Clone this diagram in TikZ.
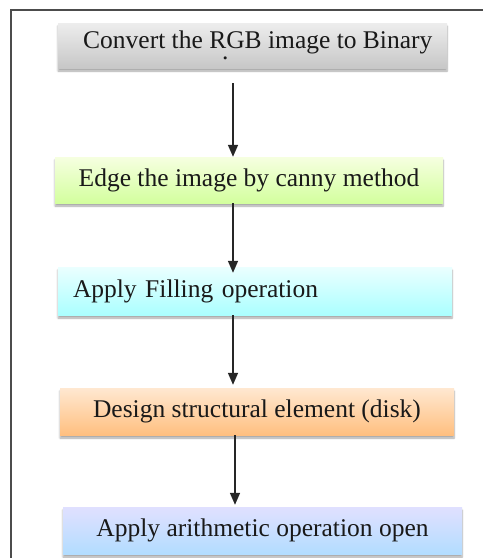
\documentclass[tikz,border=0pt]{standalone}
\usepackage{fontspec}
\setmainfont{Liberation Serif}
\usetikzlibrary{arrows.meta, shadows.blur, positioning}

\tikzset{
  stepbox/.style={rectangle, draw=none, minimum height=46pt, inner sep=0pt,
    font=\fontsize{25.5}{30}\selectfont, text=black!90,
    blur shadow={shadow xshift=0pt, shadow yshift=-3pt, shadow blur steps=6, shadow opacity=35}},
  flow/.style={line width=1.6pt, draw=black!85, -{Triangle[width=10pt,length=12pt]}}
}

\begin{document}
\begin{tikzpicture}[x=1pt, y=-1pt]
		\useasboundingbox (0,0) rectangle (483,558);
		% Frame
		\draw[line width=1.5pt, black!70] (11,558) -- (11,10) -- (483,10);
		
		% Steps
		\node[stepbox, minimum width=389pt, minimum height=45pt, top color=black!7, bottom color=black!22] (rgb) at (252.5,45.5) {};
		\node[font=\fontsize{25.5}{30}\selectfont, text=black!90, inner sep=0pt, align=left, anchor=north west] (rgbtext) at (83,31)
		  {Convert the RGB image to Binary\\[-19pt]\hspace*{139pt}.};
		\node[stepbox, minimum width=388pt, top color=green!30!yellow!12, bottom color=green!45!yellow!38] (edge) at (249,180) {Edge the image by canny method};
		\node[stepbox, minimum width=394pt, minimum height=48pt, text width=364pt, align=left, inner xsep=0pt,
		  top color=cyan!8, bottom color=cyan!33] (fill) at (255,291) {Apply Filling operation};
		\node[stepbox, minimum width=394pt, minimum height=47pt, top color=orange!18, bottom color=orange!50] (disk) at (257,411.5) {Design structural element (disk)};
		\node[stepbox, minimum width=399pt, minimum height=47pt, top color=blue!12, bottom color=blue!45!cyan!30] (open) at (262.5,530.5) {Apply arithmetic operation open};
		
		% Arrows
		\coordinate (spine) at (233,0);
		\draw[flow, shorten <=15pt] (rgb.south -| spine) -- (edge.north -| spine);
		\draw[flow, shorten >=-6pt] (edge.south -| spine) -- (fill.north -| spine);
		\draw[flow, shorten >=3pt] (fill.south -| spine) -- (disk.north -| spine);
		\draw[flow, shorten >=2pt] ([xshift=2pt]disk.south -| spine) -- ([xshift=2pt]open.north -| spine);
	\end{tikzpicture}
\end{document}
